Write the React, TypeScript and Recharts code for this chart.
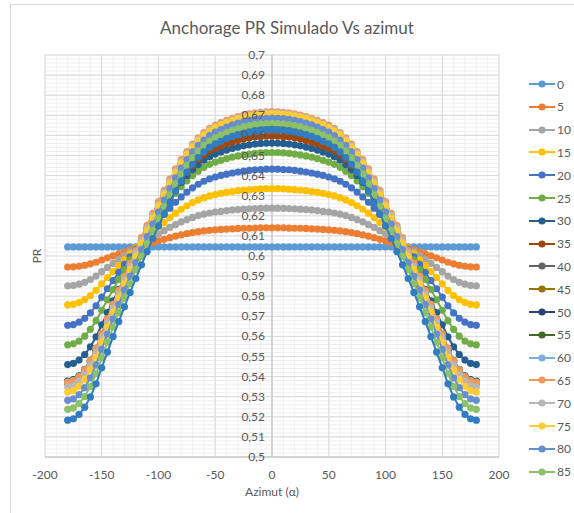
import React from 'react';
import { ScatterChart, Scatter, XAxis, YAxis, CartesianGrid } from 'recharts';

// azimuth of every simulated point (deg)
const azimut = [
  -180, -175, -170, -165, -160, -155, -150, -145, -140, -135, -130, -125, -120, -115, -110, -105, -100, -95,
  -90, -85, -80, -75, -70, -65, -60, -55, -50, -45, -40, -35, -30, -25, -20, -15, -10, -5,
  0, 5, 10, 15, 20, 25, 30, 35, 40, 45, 50, 55, 60, 65, 70, 75, 80, 85,
  90, 95, 100, 105, 110, 115, 120, 125, 130, 135, 140, 145, 150, 155, 160, 165, 170, 175, 180,
];

// PR per tilt (azimuth -180 .. 180)
const pr0 = [
  0.6045, 0.6045, 0.6045, 0.6045, 0.6045, 0.6045, 0.6045, 0.6045, 0.6045, 0.6045, 0.6045, 0.6045, 0.6045, 0.6045, 0.6045, 0.6045, 0.6045, 0.6045,
  0.6045, 0.6045, 0.6045, 0.6045, 0.6045, 0.6045, 0.6045, 0.6045, 0.6045, 0.6045, 0.6045, 0.6045, 0.6045, 0.6045, 0.6045, 0.6045, 0.6045, 0.6045,
  0.6045, 0.6045, 0.6045, 0.6045, 0.6045, 0.6045, 0.6045, 0.6045, 0.6045, 0.6045, 0.6045, 0.6045, 0.6045, 0.6045, 0.6045, 0.6045, 0.6045, 0.6045,
  0.6045, 0.6045, 0.6045, 0.6045, 0.6045, 0.6045, 0.6045, 0.6045, 0.6045, 0.6045, 0.6045, 0.6045, 0.6045, 0.6045, 0.6045, 0.6045, 0.6045, 0.6045, 0.6045,
];
const pr5 = [
  0.5945, 0.5946, 0.5949, 0.5954, 0.5961, 0.5969, 0.5980, 0.5991, 0.6001, 0.6011, 0.6021, 0.6031, 0.6040, 0.6049, 0.6058, 0.6067, 0.6075, 0.6083, 0.6091, 0.6099, 0.6105, 0.6111, 0.6117, 0.6121, 0.6125, 0.6128, 0.6130, 0.6132, 0.6134, 0.6135, 0.6137, 0.6138, 0.6138, 0.6139, 0.6140, 0.6140,
  0.6140, 0.6140, 0.6140, 0.6139, 0.6138, 0.6138, 0.6137, 0.6135, 0.6134, 0.6132, 0.6130, 0.6128, 0.6125, 0.6121, 0.6117, 0.6111, 0.6105, 0.6099, 0.6091, 0.6083, 0.6075, 0.6067, 0.6058, 0.6049, 0.6040, 0.6031, 0.6021, 0.6011, 0.6001, 0.5991, 0.5980, 0.5969, 0.5961, 0.5954, 0.5949, 0.5946, 0.5945,
];
const pr10 = [
  0.5852, 0.5854, 0.5860, 0.5869, 0.5883, 0.5900, 0.5922, 0.5943, 0.5963, 0.5983, 0.6003, 0.6022, 0.6040, 0.6058, 0.6076, 0.6093, 0.6110, 0.6126, 0.6142, 0.6156, 0.6170, 0.6181, 0.6192, 0.6201, 0.6208, 0.6214, 0.6219, 0.6222, 0.6226, 0.6229, 0.6231, 0.6233, 0.6235, 0.6236, 0.6237, 0.6238,
  0.6238, 0.6238, 0.6237, 0.6236, 0.6235, 0.6233, 0.6231, 0.6229, 0.6226, 0.6222, 0.6219, 0.6214, 0.6208, 0.6201, 0.6192, 0.6181, 0.6170, 0.6156, 0.6142, 0.6126, 0.6110, 0.6093, 0.6076, 0.6058, 0.6040, 0.6022, 0.6003, 0.5983, 0.5963, 0.5943, 0.5922, 0.5900, 0.5883, 0.5869, 0.5860, 0.5854, 0.5852,
];
const pr15 = [
  0.5757, 0.5760, 0.5769, 0.5783, 0.5803, 0.5829, 0.5861, 0.5893, 0.5923, 0.5953, 0.5982, 0.6011, 0.6039, 0.6066, 0.6092, 0.6118, 0.6143, 0.6167, 0.6191, 0.6213, 0.6232, 0.6250, 0.6266, 0.6279, 0.6290, 0.6299, 0.6306, 0.6312, 0.6317, 0.6321, 0.6325, 0.6328, 0.6330, 0.6332, 0.6334, 0.6335,
  0.6335, 0.6335, 0.6334, 0.6332, 0.6330, 0.6328, 0.6325, 0.6321, 0.6317, 0.6312, 0.6306, 0.6299, 0.6290, 0.6279, 0.6266, 0.6250, 0.6232, 0.6213, 0.6191, 0.6167, 0.6143, 0.6118, 0.6092, 0.6066, 0.6039, 0.6011, 0.5982, 0.5953, 0.5923, 0.5893, 0.5861, 0.5829, 0.5803, 0.5783, 0.5769, 0.5760, 0.5757,
];
const pr20 = [
  0.5655, 0.5659, 0.5671, 0.5690, 0.5717, 0.5752, 0.5795, 0.5837, 0.5878, 0.5919, 0.5958, 0.5996, 0.6034, 0.6070, 0.6106, 0.6140, 0.6174, 0.6206, 0.6238, 0.6267, 0.6294, 0.6318, 0.6339, 0.6357, 0.6372, 0.6384, 0.6393, 0.6401, 0.6407, 0.6413, 0.6418, 0.6422, 0.6426, 0.6429, 0.6430, 0.6432,
  0.6432, 0.6432, 0.6430, 0.6429, 0.6426, 0.6422, 0.6418, 0.6413, 0.6407, 0.6401, 0.6393, 0.6384, 0.6372, 0.6357, 0.6339, 0.6318, 0.6294, 0.6267, 0.6238, 0.6206, 0.6174, 0.6140, 0.6106, 0.6070, 0.6034, 0.5996, 0.5958, 0.5919, 0.5878, 0.5837, 0.5795, 0.5752, 0.5717, 0.5690, 0.5671, 0.5659, 0.5655,
];
const pr25 = [
  0.5558, 0.5563, 0.5577, 0.5601, 0.5635, 0.5678, 0.5730, 0.5782, 0.5833, 0.5883, 0.5931, 0.5979, 0.6025, 0.6069, 0.6113, 0.6156, 0.6197, 0.6237, 0.6276, 0.6312, 0.6345, 0.6374, 0.6400, 0.6422, 0.6441, 0.6456, 0.6467, 0.6476, 0.6484, 0.6492, 0.6498, 0.6503, 0.6507, 0.6511, 0.6513, 0.6515,
  0.6515, 0.6515, 0.6513, 0.6511, 0.6507, 0.6503, 0.6498, 0.6492, 0.6484, 0.6476, 0.6467, 0.6456, 0.6441, 0.6422, 0.6400, 0.6374, 0.6345, 0.6312, 0.6276, 0.6237, 0.6197, 0.6156, 0.6113, 0.6069, 0.6025, 0.5979, 0.5931, 0.5883, 0.5833, 0.5782, 0.5730, 0.5678, 0.5635, 0.5601, 0.5577, 0.5563, 0.5558,
];
const pr30 = [
  0.5460, 0.5466, 0.5482, 0.5510, 0.5548, 0.5598, 0.5658, 0.5718, 0.5777, 0.5834, 0.5890, 0.5944, 0.5997, 0.6049, 0.6099, 0.6148, 0.6196, 0.6242, 0.6287, 0.6329, 0.6366, 0.6400, 0.6430, 0.6455, 0.6477, 0.6494, 0.6507, 0.6517, 0.6527, 0.6535, 0.6542, 0.6548, 0.6553, 0.6557, 0.6560, 0.6561,
  0.6562, 0.6561, 0.6560, 0.6557, 0.6553, 0.6548, 0.6542, 0.6535, 0.6527, 0.6517, 0.6507, 0.6494, 0.6477, 0.6455, 0.6430, 0.6400, 0.6366, 0.6329, 0.6287, 0.6242, 0.6196, 0.6148, 0.6099, 0.6049, 0.5997, 0.5944, 0.5890, 0.5834, 0.5777, 0.5718, 0.5658, 0.5598, 0.5548, 0.5510, 0.5482, 0.5466, 0.5460,
];
const pr35 = [
  0.5375, 0.5381, 0.5400, 0.5430, 0.5473, 0.5528, 0.5595, 0.5661, 0.5727, 0.5790, 0.5852, 0.5912, 0.5970, 0.6028, 0.6084, 0.6138, 0.6191, 0.6242, 0.6292, 0.6339, 0.6380, 0.6417, 0.6450, 0.6479, 0.6502, 0.6522, 0.6536, 0.6547, 0.6558, 0.6567, 0.6575, 0.6582, 0.6588, 0.6592, 0.6595, 0.6596,
  0.6597, 0.6596, 0.6595, 0.6592, 0.6588, 0.6582, 0.6575, 0.6567, 0.6558, 0.6547, 0.6536, 0.6522, 0.6502, 0.6479, 0.6450, 0.6417, 0.6380, 0.6339, 0.6292, 0.6242, 0.6191, 0.6138, 0.6084, 0.6028, 0.5970, 0.5912, 0.5852, 0.5790, 0.5727, 0.5661, 0.5595, 0.5528, 0.5473, 0.5430, 0.5400, 0.5381, 0.5375,
];
const pr40 = [
  0.5370, 0.5376, 0.5396, 0.5426, 0.5470, 0.5527, 0.5596, 0.5664, 0.5731, 0.5796, 0.5860, 0.5922, 0.5982, 0.6040, 0.6098, 0.6154, 0.6208, 0.6261, 0.6312, 0.6359, 0.6403, 0.6440, 0.6474, 0.6504, 0.6528, 0.6547, 0.6563, 0.6574, 0.6585, 0.6595, 0.6603, 0.6610, 0.6615, 0.6620, 0.6623, 0.6624,
  0.6625, 0.6624, 0.6623, 0.6620, 0.6615, 0.6610, 0.6603, 0.6595, 0.6585, 0.6574, 0.6563, 0.6547, 0.6528, 0.6504, 0.6474, 0.6440, 0.6403, 0.6359, 0.6312, 0.6261, 0.6208, 0.6154, 0.6098, 0.6040, 0.5982, 0.5922, 0.5860, 0.5796, 0.5731, 0.5664, 0.5596, 0.5527, 0.5470, 0.5426, 0.5396, 0.5376, 0.5370,
];
const pr45 = [
  0.5370, 0.5376, 0.5395, 0.5428, 0.5472, 0.5530, 0.5601, 0.5670, 0.5738, 0.5804, 0.5869, 0.5933, 0.5994, 0.6054, 0.6113, 0.6169, 0.6224, 0.6278, 0.6330, 0.6379, 0.6423, 0.6462, 0.6496, 0.6525, 0.6551, 0.6571, 0.6586, 0.6598, 0.6609, 0.6619, 0.6627, 0.6634, 0.6640, 0.6644, 0.6648, 0.6649,
  0.6650, 0.6649, 0.6648, 0.6644, 0.6640, 0.6634, 0.6627, 0.6619, 0.6609, 0.6598, 0.6586, 0.6571, 0.6551, 0.6525, 0.6496, 0.6462, 0.6423, 0.6379, 0.6330, 0.6278, 0.6224, 0.6169, 0.6113, 0.6054, 0.5994, 0.5933, 0.5869, 0.5804, 0.5738, 0.5670, 0.5601, 0.5530, 0.5472, 0.5428, 0.5395, 0.5376, 0.5370,
];
const pr50 = [
  0.5378, 0.5385, 0.5404, 0.5436, 0.5481, 0.5540, 0.5611, 0.5681, 0.5750, 0.5817, 0.5882, 0.5946, 0.6008, 0.6068, 0.6127, 0.6185, 0.6240, 0.6295, 0.6347, 0.6396, 0.6441, 0.6480, 0.6515, 0.6545, 0.6570, 0.6590, 0.6605, 0.6618, 0.6629, 0.6638, 0.6647, 0.6654, 0.6660, 0.6664, 0.6667, 0.6669,
  0.6670, 0.6669, 0.6667, 0.6664, 0.6660, 0.6654, 0.6647, 0.6638, 0.6629, 0.6618, 0.6605, 0.6590, 0.6570, 0.6545, 0.6515, 0.6480, 0.6441, 0.6396, 0.6347, 0.6295, 0.6240, 0.6185, 0.6127, 0.6068, 0.6008, 0.5946, 0.5882, 0.5817, 0.5750, 0.5681, 0.5611, 0.5540, 0.5481, 0.5436, 0.5404, 0.5385, 0.5378,
];
const pr55 = [
  0.5375, 0.5382, 0.5401, 0.5434, 0.5480, 0.5539, 0.5612, 0.5683, 0.5753, 0.5821, 0.5888, 0.5953, 0.6016, 0.6078, 0.6138, 0.6196, 0.6253, 0.6308, 0.6361, 0.6411, 0.6457, 0.6497, 0.6532, 0.6563, 0.6588, 0.6609, 0.6624, 0.6637, 0.6648, 0.6658, 0.6666, 0.6674, 0.6680, 0.6684, 0.6687, 0.6689,
  0.6690, 0.6689, 0.6687, 0.6684, 0.6680, 0.6674, 0.6666, 0.6658, 0.6648, 0.6637, 0.6624, 0.6609, 0.6588, 0.6563, 0.6532, 0.6497, 0.6457, 0.6411, 0.6361, 0.6308, 0.6253, 0.6196, 0.6138, 0.6078, 0.6016, 0.5953, 0.5888, 0.5821, 0.5753, 0.5683, 0.5612, 0.5539, 0.5480, 0.5434, 0.5401, 0.5382, 0.5375,
];
const pr60 = [
  0.5373, 0.5380, 0.5400, 0.5433, 0.5480, 0.5540, 0.5613, 0.5685, 0.5756, 0.5825, 0.5893, 0.5958, 0.6022, 0.6085, 0.6146, 0.6205, 0.6262, 0.6318, 0.6372, 0.6423, 0.6469, 0.6509, 0.6545, 0.6576, 0.6602, 0.6623, 0.6638, 0.6651, 0.6662, 0.6672, 0.6681, 0.6688, 0.6694, 0.6699, 0.6702, 0.6704,
  0.6705, 0.6704, 0.6702, 0.6699, 0.6694, 0.6688, 0.6681, 0.6672, 0.6662, 0.6651, 0.6638, 0.6623, 0.6602, 0.6576, 0.6545, 0.6509, 0.6469, 0.6423, 0.6372, 0.6318, 0.6262, 0.6205, 0.6146, 0.6085, 0.6022, 0.5958, 0.5893, 0.5825, 0.5756, 0.5685, 0.5613, 0.5540, 0.5480, 0.5433, 0.5400, 0.5380, 0.5373,
];
const pr65 = [
  0.5372, 0.5379, 0.5399, 0.5433, 0.5480, 0.5540, 0.5614, 0.5688, 0.5759, 0.5829, 0.5897, 0.5963, 0.6028, 0.6091, 0.6153, 0.6212, 0.6271, 0.6327, 0.6382, 0.6433, 0.6479, 0.6520, 0.6557, 0.6588, 0.6614, 0.6635, 0.6651, 0.6664, 0.6675, 0.6685, 0.6694, 0.6701, 0.6707, 0.6712, 0.6715, 0.6717,
  0.6718, 0.6717, 0.6715, 0.6712, 0.6707, 0.6701, 0.6694, 0.6685, 0.6675, 0.6664, 0.6651, 0.6635, 0.6614, 0.6588, 0.6557, 0.6520, 0.6479, 0.6433, 0.6382, 0.6327, 0.6271, 0.6212, 0.6153, 0.6091, 0.6028, 0.5963, 0.5897, 0.5829, 0.5759, 0.5688, 0.5614, 0.5540, 0.5480, 0.5433, 0.5399, 0.5379, 0.5372,
];
const pr70 = [
  0.5348, 0.5355, 0.5376, 0.5410, 0.5457, 0.5519, 0.5593, 0.5668, 0.5740, 0.5811, 0.5880, 0.5948, 0.6013, 0.6077, 0.6139, 0.6200, 0.6258, 0.6316, 0.6372, 0.6423, 0.6470, 0.6511, 0.6548, 0.6580, 0.6607, 0.6628, 0.6643, 0.6656, 0.6668, 0.6678, 0.6687, 0.6695, 0.6701, 0.6706, 0.6709, 0.6711,
  0.6712, 0.6711, 0.6709, 0.6706, 0.6701, 0.6695, 0.6687, 0.6678, 0.6668, 0.6656, 0.6643, 0.6628, 0.6607, 0.6580, 0.6548, 0.6511, 0.6470, 0.6423, 0.6372, 0.6316, 0.6258, 0.6200, 0.6139, 0.6077, 0.6013, 0.5948, 0.5880, 0.5811, 0.5740, 0.5668, 0.5593, 0.5519, 0.5457, 0.5410, 0.5376, 0.5355, 0.5348,
];
const pr75 = [
  0.5323, 0.5330, 0.5351, 0.5385, 0.5434, 0.5496, 0.5572, 0.5648, 0.5721, 0.5793, 0.5863, 0.5932, 0.5998, 0.6063, 0.6126, 0.6188, 0.6248, 0.6306, 0.6362, 0.6415, 0.6462, 0.6505, 0.6542, 0.6574, 0.6601, 0.6622, 0.6639, 0.6652, 0.6664, 0.6674, 0.6683, 0.6691, 0.6697, 0.6702, 0.6705, 0.6707,
  0.6708, 0.6707, 0.6705, 0.6702, 0.6697, 0.6691, 0.6683, 0.6674, 0.6664, 0.6652, 0.6639, 0.6622, 0.6601, 0.6574, 0.6542, 0.6505, 0.6462, 0.6415, 0.6362, 0.6306, 0.6248, 0.6188, 0.6126, 0.6063, 0.5998, 0.5932, 0.5863, 0.5793, 0.5721, 0.5648, 0.5572, 0.5496, 0.5434, 0.5385, 0.5351, 0.5330, 0.5323,
];
const pr80 = [
  0.5282, 0.5289, 0.5310, 0.5345, 0.5394, 0.5458, 0.5535, 0.5611, 0.5686, 0.5759, 0.5830, 0.5899, 0.5967, 0.6032, 0.6096, 0.6159, 0.6219, 0.6278, 0.6335, 0.6389, 0.6437, 0.6480, 0.6518, 0.6550, 0.6577, 0.6599, 0.6616, 0.6629, 0.6641, 0.6652, 0.6661, 0.6669, 0.6675, 0.6680, 0.6683, 0.6685,
  0.6686, 0.6685, 0.6683, 0.6680, 0.6675, 0.6669, 0.6661, 0.6652, 0.6641, 0.6629, 0.6616, 0.6599, 0.6577, 0.6550, 0.6518, 0.6480, 0.6437, 0.6389, 0.6335, 0.6278, 0.6219, 0.6159, 0.6096, 0.6032, 0.5967, 0.5899, 0.5830, 0.5759, 0.5686, 0.5611, 0.5535, 0.5458, 0.5394, 0.5345, 0.5310, 0.5289, 0.5282,
];
const pr85 = [
  0.5237, 0.5244, 0.5266, 0.5301, 0.5351, 0.5415, 0.5493, 0.5571, 0.5646, 0.5720, 0.5792, 0.5862, 0.5931, 0.5998, 0.6062, 0.6126, 0.6187, 0.6247, 0.6304, 0.6359, 0.6407, 0.6451, 0.6489, 0.6522, 0.6550, 0.6572, 0.6589, 0.6602, 0.6615, 0.6625, 0.6634, 0.6642, 0.6649, 0.6654, 0.6657, 0.6659,
  0.6660, 0.6659, 0.6657, 0.6654, 0.6649, 0.6642, 0.6634, 0.6625, 0.6615, 0.6602, 0.6589, 0.6572, 0.6550, 0.6522, 0.6489, 0.6451, 0.6407, 0.6359, 0.6304, 0.6247, 0.6187, 0.6126, 0.6062, 0.5998, 0.5931, 0.5862, 0.5792, 0.5720, 0.5646, 0.5571, 0.5493, 0.5415, 0.5351, 0.5301, 0.5266, 0.5244, 0.5237,
];
// the legend stops at 85, but one more (darker blue) curve is plotted
const pr90 = [
  0.5183, 0.5190, 0.5212, 0.5248, 0.5299, 0.5364, 0.5444, 0.5522, 0.5599, 0.5674, 0.5747, 0.5819, 0.5888, 0.5956, 0.6022, 0.6087, 0.6149, 0.6210, 0.6268, 0.6323, 0.6373, 0.6417, 0.6456, 0.6490, 0.6518, 0.6540, 0.6558, 0.6571, 0.6584, 0.6595, 0.6604, 0.6612, 0.6618, 0.6624, 0.6627, 0.6629,
  0.6630, 0.6629, 0.6627, 0.6624, 0.6618, 0.6612, 0.6604, 0.6595, 0.6584, 0.6571, 0.6558, 0.6540, 0.6518, 0.6490, 0.6456, 0.6417, 0.6373, 0.6323, 0.6268, 0.6210, 0.6149, 0.6087, 0.6022, 0.5956, 0.5888, 0.5819, 0.5747, 0.5674, 0.5599, 0.5522, 0.5444, 0.5364, 0.5299, 0.5248, 0.5212, 0.5190, 0.5183,
];

const tiltNames = ['0', '5', '10', '15', '20', '25', '30', '35', '40', '45', '50', '55', '60', '65', '70', '75', '80', '85', '90'];
const tiltColors = [
  '#5B9BD5', '#ED7D31', '#A5A5A5', '#FFC000', '#4472C4', '#70AD47', '#255E91', '#9E480E', '#636363',
  '#997300', '#264478', '#43682B', '#7CAFDD', '#F1975A', '#B7B7B7', '#FFCD33', '#698ED0', '#8CC168', '#327DC2',
];
const tiltValues = [pr0, pr5, pr10, pr15, pr20, pr25, pr30, pr35, pr40, pr45, pr50, pr55, pr60, pr65, pr70, pr75, pr80, pr85, pr90];
const legendCount = 18;

const xTicks = [-200, -150, -100, -50, 0, 50, 100, 150, 200];
const yTicks = [0.5, 0.51, 0.52, 0.53, 0.54, 0.55, 0.56, 0.57, 0.58, 0.59, 0.6, 0.61, 0.62, 0.63, 0.64, 0.65, 0.66, 0.67, 0.68, 0.69, 0.7];

// minor gridlines
const xMinor: number[] = [];
for (let v = -200; v <= 200; v += 10) xMinor.push(v);
const yMinor: number[] = [];
for (let i = 0; i <= 100; i++) yMinor.push(+(0.5 + i * 0.002).toFixed(3));

const W = 574;
const H = 513;
const M = { top: 55, right: 75, bottom: 16, left: 44 };
const AXIS_X = M.left + 1 + (W - M.left - 1 - M.right) / 2;
const TEXT = '#595959';
const FONT = "Lato, 'Open Sans', sans-serif";

const fmt = (v: number) => String(+v.toFixed(2)).replace('.', ',');

const renderYTick = (props: any) => (
  <text key={props.index} x={AXIS_X - 7} y={props.y} dy={4} textAnchor="end" fill={TEXT} fontSize={12}>
    {fmt(props.payload.value)}
  </text>
);

const dot = (color: string) => (props: any) =>
  props.cx == null ? <g /> : <circle cx={props.cx} cy={props.cy} r={3.6} fill={color} />;

export default function App() {
  return (
    <div style={{ position: 'absolute', left: 0, top: 0, width: W, height: H, background: '#fff', fontFamily: FONT, overflow: 'hidden' }}>
      <div style={{ position: 'absolute', left: 10, top: 4, right: 0, bottom: 0, borderLeft: '1px solid #D9D9D9', borderTop: '1px solid #D9D9D9' }} />
      <div style={{ position: 'absolute', left: 0, width: W, top: 17, textAlign: 'center', fontSize: 17, color: TEXT }}>
        Anchorage PR Simulado Vs azimut
      </div>
      <div style={{ position: 'absolute', left: 36, top: 256, transform: 'translate(-50%, -50%) rotate(-90deg)', fontSize: 12, color: TEXT }}>
        PR
      </div>
      <div style={{ position: 'absolute', left: 0, top: 0 }}>
        <ScatterChart width={W} height={H} margin={M}>
          <CartesianGrid stroke="#EFEFEF" horizontalValues={yMinor} verticalValues={xMinor} />
          <CartesianGrid stroke="#D9D9D9" />
          <CartesianGrid stroke="#BFBFBF" horizontal={false} verticalValues={[0]} />
          <XAxis
            type="number"
            dataKey="x"
            domain={[-200, 200]}
            ticks={xTicks}
            interval={0}
            allowDataOverflow
            height={40}
            axisLine={{ stroke: '#BFBFBF' }}
            tickLine={false}
            tickMargin={7}
            tick={{ fill: TEXT, fontSize: 12 }}
            label={{ value: 'Azimut (α)', position: 'bottom', offset: -10, fill: TEXT, fontSize: 12 }}
          />
          <YAxis
            type="number"
            dataKey="y"
            domain={[0.5, 0.7]}
            ticks={yTicks}
            interval={0}
            allowDataOverflow
            width={1}
            axisLine={false}
            tickLine={false}
            tick={renderYTick}
          />
          {tiltValues.map((vals, s) => (
            <Scatter
              key={tiltNames[s]}
              name={tiltNames[s]}
              data={azimut.map((x, i) => ({ x, y: vals[i] }))}
              fill={tiltColors[s]}
              line={{ stroke: tiltColors[s], strokeWidth: 2 }}
              shape={dot(tiltColors[s])}
              isAnimationActive={false}
            />
          ))}
        </ScatterChart>
      </div>
      <div style={{ position: 'absolute', left: 526, top: 84 }}>
        {tiltNames.slice(0, legendCount).map((n, i) => (
          <div key={n} style={{ position: 'absolute', left: 0, top: i * 22.8 - 8, height: 16, display: 'flex', alignItems: 'center', whiteSpace: 'nowrap' }}>
            <svg width={30} height={16}>
              <line x1={3} y1={8} x2={29} y2={8} stroke={tiltColors[i]} strokeWidth={2} />
              <circle cx={16} cy={8} r={3.6} fill={tiltColors[i]} />
            </svg>
            <span style={{ fontSize: 12, color: TEXT, marginLeft: 1 }}>{n}</span>
          </div>
        ))}
      </div>
    </div>
  );
}
